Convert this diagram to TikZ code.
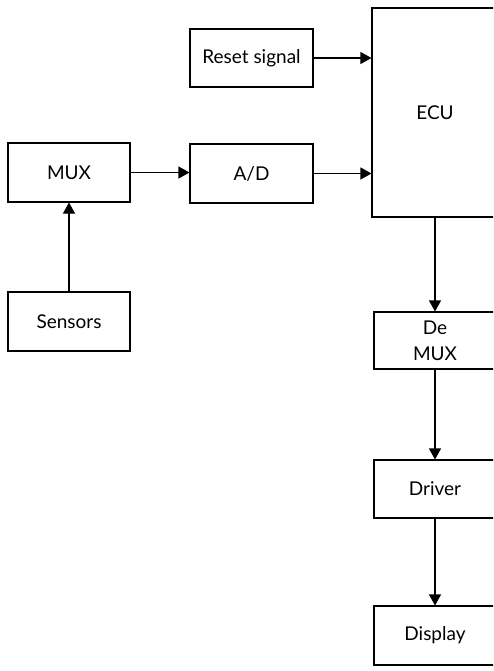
\documentclass[tikz,border=0pt]{standalone}
\usepackage{fontspec}
\setmainfont{Lato}
\usetikzlibrary{arrows.meta}
\begin{document}
\begin{tikzpicture}[x=1pt,y=-1pt,
  blk/.style={draw, line width=1.1pt, minimum width=#1, inner sep=0pt, align=center, font=\fontsize{19}{26}\selectfont},
  blk/.default=122pt,
  arr/.style={line width=1.1pt, -{Triangle[length=11pt,width=12pt]}}]
\useasboundingbox (0,0) rectangle (493,671);
\clip (0,0) rectangle (493,671);
\node[blk=123pt, minimum height=58pt] (reset) at (251.5,58) {Reset signal};
\node[blk=126pt, minimum height=209pt] (ecu) at (435,112.5) {ECU};
\node[blk=122pt, minimum height=59pt] (mux) at (69,172.5) {MUX};
\node[blk=123pt, minimum height=59pt] (ad) at (251.5,173.5) {A/D};
\node[blk=122pt, minimum height=59pt] (sensors) at (69,321.5) {Sensors};
\node[blk=122pt, minimum height=57pt] (demux) at (435,340.5) {De\\MUX};
\node[blk=122pt, minimum height=58pt] (driver) at (435,489) {Driver};
\node[blk=122pt, minimum height=59pt] (display) at (435,635.5) {Display};
\draw[arr] (reset.east) -- (reset.east -| ecu.west);
\draw[arr] (ad.east) -- (ad.east -| ecu.west);
\draw[arr] (mux.east) -- (mux.east -| ad.west);
\draw[arr] (sensors.north) -- (mux.south);
\draw[arr] (ecu.south) -- (demux.north);
\draw[arr] (demux.south) -- (driver.north);
\draw[arr] (driver.south) -- (display.north);
\end{tikzpicture}
\end{document}
